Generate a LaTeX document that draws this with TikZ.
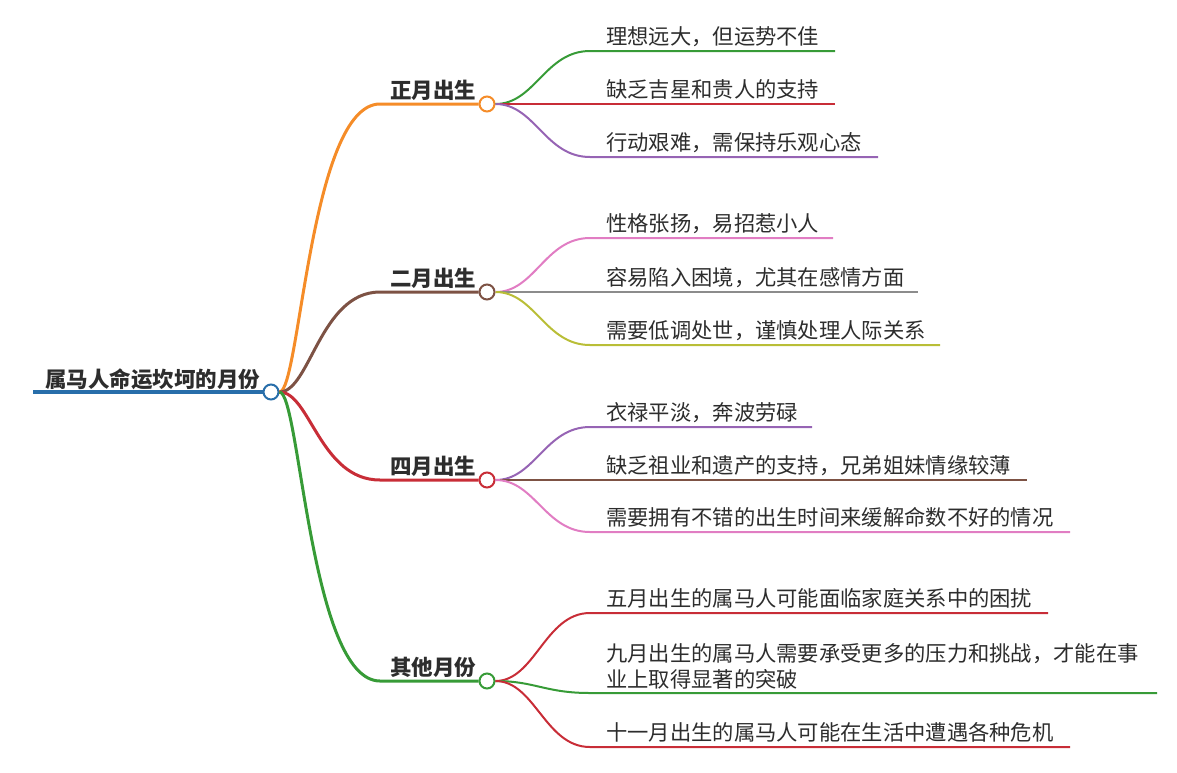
\documentclass[tikz,border=0pt]{standalone}
\usepackage{fontspec}
\setmainfont{Noto Sans CJK SC}
\definecolor{cblue}{RGB}{40,110,170}
\definecolor{corange}{RGB}{245,140,40}
\definecolor{cbrown}{RGB}{125,82,68}
\definecolor{cred}{RGB}{200,45,55}
\definecolor{cgreen}{RGB}{55,155,55}
\definecolor{cpurple}{RGB}{150,100,180}
\definecolor{cpink}{RGB}{225,125,195}
\definecolor{cgray}{RGB}{140,140,140}
\definecolor{colive}{RGB}{185,190,55}
\definecolor{ctext}{RGB}{45,45,45}
\begin{document}
\begin{tikzpicture}[x=1pt,y=-1pt,
  circ/.style={circle,draw=#1,fill=white,line width=2pt,minimum size=15pt,inner sep=0pt},
  rootlbl/.style={font=\bfseries\fontsize{21.5}{21.5}\selectfont,text=ctext,anchor=base west,inner sep=0pt},
  brlbl/.style={font=\bfseries\fontsize{21.5}{21.5}\selectfont,text=ctext,anchor=base west,inner sep=0pt},
  leaf/.style={font=\fontsize{21.3}{26}\selectfont,text=ctext,anchor=base west,inner sep=0pt},
  bline/.style={draw=#1,line width=3pt},
  lline/.style={draw=#1,line width=2pt}]
\useasboundingbox (0,0) rectangle (1177,772);
% root
\node[rootlbl] (root) at (45,387) {属马人命运坎坷的月份};
\node[circ=cblue] (rc) at (271,392) {};
\coordinate (rs) at (33,392);
\draw[cblue,line width=4pt] (rs) -- (rc.west);
% branches
\node[circ=corange] (b1) at (487,104) {};
\node[circ=cbrown] (b2) at (487,292) {};
\node[circ=cred] (b3) at (487,480) {};
\node[circ=cgreen] (b4) at (487,681) {};
\node[brlbl] (b1t) at (390,98) {正月出生};
\node[brlbl] (b2t) at (390,286) {二月出生};
\node[brlbl] (b3t) at (390,474) {四月出生};
\node[brlbl] (b4t) at (390,675) {其他月份};
\coordinate (b1s) at (380,104);
\coordinate (b2s) at (380,292);
\coordinate (b3s) at (380,480);
\coordinate (b4s) at (380,681);
\draw[bline=corange] (rc.east) .. controls (300,392) and (310,104) .. (b1s) -- (b1.west);
\draw[bline=cbrown] (rc.east) .. controls (310,392) and (320,292) .. (b2s) -- (b2.west);
\draw[bline=cred] (rc.east) .. controls (310,392) and (320,480) .. (b3s) -- (b3.west);
\draw[bline=cgreen] (rc.east) .. controls (300,392) and (310,681) .. (b4s) -- (b4.west);
% leaves branch 1
\node[leaf] (l11) at (606,44) {理想远大，但运势不佳};
\node[leaf] (l12) at (606,97) {缺乏吉星和贵人的支持};
\node[leaf] (l13) at (606,150) {行动艰难，需保持乐观心态};
\coordinate (l11s) at (590,51); \coordinate (l11e) at (835,51);
\coordinate (l12e) at (835,104);
\coordinate (l13s) at (590,157); \coordinate (l13e) at (878,157);
\draw[lline=cgreen] (b1.east) .. controls (535,104) and (545,51) .. (l11s) -- (l11e);
\draw[lline=cred] (b1.east) -- (l12e);
\draw[lline=cpurple] (b1.east) .. controls (535,104) and (545,157) .. (l13s) -- (l13e);
% leaves branch 2
\node[leaf] (l21) at (606,231) {性格张扬，易招惹小人};
\node[leaf] (l22) at (606,285) {容易陷入困境，尤其在感情方面};
\node[leaf] (l23) at (606,338) {需要低调处世，谨慎处理人际关系};
\coordinate (l21s) at (590,238); \coordinate (l21e) at (833,238);
\coordinate (l22e) at (918,292);
\coordinate (l23s) at (590,345); \coordinate (l23e) at (940,345);
\draw[lline=cpink] (b2.east) .. controls (535,292) and (545,238) .. (l21s) -- (l21e);
\draw[lline=cgray] (b2.east) -- (l22e);
\draw[lline=colive] (b2.east) .. controls (535,292) and (545,345) .. (l23s) -- (l23e);
% leaves branch 3
\node[leaf] (l31) at (606,420) {衣禄平淡，奔波劳碌};
\node[leaf] (l32) at (606,473) {缺乏祖业和遗产的支持，兄弟姐妹情缘较薄};
\node[leaf] (l33) at (606,525) {需要拥有不错的出生时间来缓解命数不好的情况};
\coordinate (l31s) at (590,427); \coordinate (l31e) at (812,427);
\coordinate (l32e) at (1027,480);
\coordinate (l33s) at (590,532); \coordinate (l33e) at (1070,532);
\draw[lline=cpurple] (b3.east) .. controls (535,480) and (545,427) .. (l31s) -- (l31e);
\draw[lline=cbrown] (b3.east) -- (l32e);
\draw[lline=cpink] (b3.east) .. controls (535,480) and (545,532) .. (l33s) -- (l33e);
% leaves branch 4
\node[leaf] (l41) at (606,606) {五月出生的属马人可能面临家庭关系中的困扰};
\node[leaf,align=left,anchor=north west] (l42) at (606,643) {九月出生的属马人需要承受更多的压力和挑战，才能在事\\业上取得显著的突破};
\node[leaf] (l43) at (606,740) {十一月出生的属马人可能在生活中遭遇各种危机};
\coordinate (l41s) at (590,613); \coordinate (l41e) at (1048,613);
\coordinate (l42s) at (590,693); \coordinate (l42e) at (1157,693);
\coordinate (l43s) at (590,747); \coordinate (l43e) at (1070,747);
\draw[lline=cred] (b4.east) .. controls (535,681) and (545,613) .. (l41s) -- (l41e);
\draw[lline=cgreen] (b4.east) .. controls (535,681) and (545,693) .. (l42s) -- (l42e);
\draw[lline=cred] (b4.east) .. controls (535,681) and (545,747) .. (l43s) -- (l43e);
\end{tikzpicture}
\end{document}
